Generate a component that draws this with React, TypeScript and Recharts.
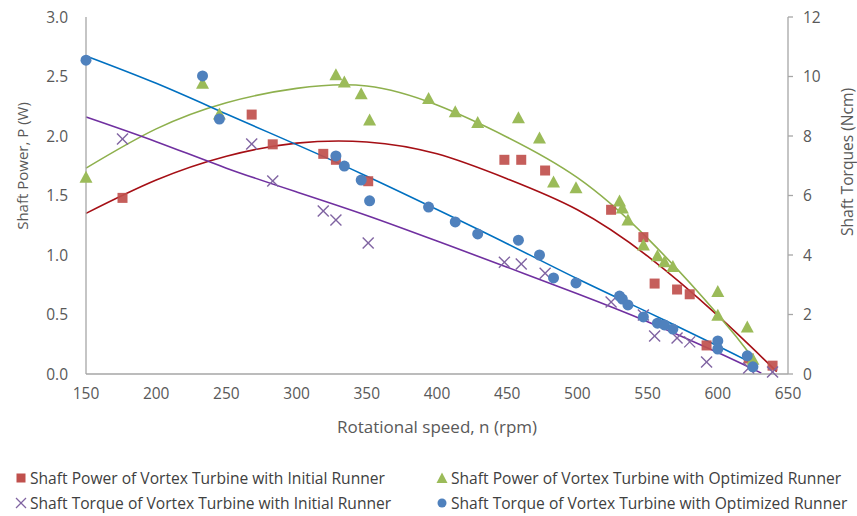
import React from "react";
import {
  ComposedChart,
  Scatter,
  Line,
  XAxis,
  YAxis,
  Legend,
} from "recharts";

// measured points, initial runner (power in W, torque in Ncm)
const rpmInitial = [176, 268, 283, 319, 328, 351, 448, 460, 477, 524, 547, 555, 571, 580, 592, 622, 639];
const powerInitial = [1.48, 2.18, 1.93, 1.85, 1.8, 1.62, 1.8, 1.8, 1.71, 1.38, 1.15, 0.76, 0.71, 0.67, 0.24, 0.13, 0.07];
const torqueInitial = [7.9, 7.73, 6.49, 5.48, 5.18, 4.4, 3.76, 3.7, 3.39, 2.42, 1.98, 1.28, 1.21, 1.08, 0.4, 0.2, 0.07];

// measured points, optimized runner
const rpmOptimized = [150, 233, 245, 328, 334, 346, 352, 394, 413, 429, 458, 473, 483, 499, 530, 532, 536, 547, 557, 562, 568, 600, 600, 621, 625];
const powerOptimized = [1.65, 2.44, 2.18, 2.51, 2.45, 2.35, 2.13, 2.31, 2.2, 2.11, 2.15, 1.98, 1.61, 1.56, 1.45, 1.39, 1.29, 1.08, 0.99, 0.94, 0.9, 0.69, 0.49, 0.39, 0.12];
const torqueOptimized = [10.55, 10.02, 8.57, 7.33, 6.99, 6.52, 5.82, 5.61, 5.11, 4.71, 4.5, 4.0, 3.23, 3.06, 2.62, 2.52, 2.32, 1.92, 1.71, 1.65, 1.51, 1.11, 0.84, 0.61, 0.24];

// trendlines
const trendPowerInitialX = [150, 200, 250, 300, 350, 400, 450, 500, 550, 600, 642];
const trendPowerInitial = [1.35, 1.63, 1.83, 1.94, 1.95, 1.85, 1.64, 1.38, 0.99, 0.49, 0.02];
const trendPowerOptimizedX = [150, 200, 250, 300, 350, 400, 450, 500, 550, 600, 626];
const trendPowerOptimized = [1.73, 2.06, 2.28, 2.4, 2.42, 2.26, 1.99, 1.65, 1.14, 0.5, 0.12];
const trendTorqueInitialX = [150, 200, 250, 300, 350, 400, 450, 500, 550, 600, 631];
const trendTorqueInitial = [8.64, 7.81, 6.92, 6.12, 5.33, 4.47, 3.59, 2.7, 1.76, 0.72, 0.03];
const trendTorqueOptimizedX = [150, 200, 250, 300, 350, 400, 450, 500, 550, 600, 625];
const trendTorqueOptimized = [10.69, 9.77, 8.74, 7.71, 6.65, 5.53, 4.38, 3.2, 2.08, 0.94, 0.35];

const xTicks = [150, 200, 250, 300, 350, 400, 450, 500, 550, 600, 650];
const powerTicks = [0, 0.5, 1, 1.5, 2, 2.5, 3];
const torqueTicks = [0, 2, 4, 6, 8, 10, 12];

const zip = (xs: number[], ys: number[]) => xs.map((x, i) => ({ x, y: ys[i] }));

const FONT = "'Open Sans', sans-serif";
const TEXT = "#595959";
const AXIS = "#a6a6a6";

const RED = "#c0504d";
const GREEN = "#9bbb59";
const PURPLE = "#8064a2";
const BLUE = "#4f81bd";

const Square = (p: any) => (
  <rect x={p.cx - 5} y={p.cy - 5} width={10} height={10} fill={RED} fillOpacity={0.92} />
);
const Triangle = (p: any) => (
  <polygon
    points={`${p.cx},${p.cy - 7} ${p.cx - 6.5},${p.cy + 5} ${p.cx + 6.5},${p.cy + 5}`}
    fill={GREEN}
  />
);
const Circle = (p: any) => <circle cx={p.cx} cy={p.cy} r={5.5} fill={BLUE} />;
const Cross = (p: any) => (
  <g stroke={PURPLE} strokeWidth={1.4}>
    <line x1={p.cx - 5.5} y1={p.cy - 5.5} x2={p.cx + 5.5} y2={p.cy + 5.5} />
    <line x1={p.cx - 5.5} y1={p.cy + 5.5} x2={p.cx + 5.5} y2={p.cy - 5.5} />
  </g>
);

const LeftTitle = () => (
  <text x={22} y={166} transform="rotate(-90 22 166)" textAnchor="middle" dominantBaseline="central"
    fill={TEXT} fontSize={15} fontFamily={FONT}>
    Shaft Power, P (W)
  </text>
);
const RightTitle = () => (
  <text x={847} y={162} transform="rotate(-90 847 162)" textAnchor="middle" dominantBaseline="central"
    fill={TEXT} fontSize={15.6} fontFamily={FONT}>
    Shaft Torques (Ncm)
  </text>
);

const legendRows = [
  [
    { name: "Shaft Power of Vortex Turbine with Initial Runner", mark: "square" },
    { name: "Shaft Power of Vortex Turbine with Optimized Runner", mark: "triangle" },
  ],
  [
    { name: "Shaft Torque of Vortex Turbine with Initial Runner", mark: "cross" },
    { name: "Shaft Torque of Vortex Turbine with Optimized Runner", mark: "circle" },
  ],
];

const LegendMark = ({ mark }: { mark: string }) => (
  <svg width={12} height={12} style={{ marginRight: 3, flex: "none" }}>
    {mark === "square" && <rect x={1.5} y={1.5} width={9} height={9} fill={RED} />}
    {mark === "triangle" && <polygon points="6,0.5 0.5,11 11.5,11" fill={GREEN} />}
    {mark === "cross" && (
      <g stroke={PURPLE} strokeWidth={1.3}>
        <line x1={1} y1={1} x2={11} y2={11} />
        <line x1={1} y1={11} x2={11} y2={1} />
      </g>
    )}
    {mark === "circle" && <circle cx={6} cy={6} r={4.5} fill={BLUE} />}
  </svg>
);

const renderLegend = () => (
  <div style={{ height: 70, fontFamily: FONT, fontSize: 15.6, color: "#404040", position: "relative" }}>
    {legendRows.map((row, r) =>
      row.map((item, c) => (
        <div
          key={item.name}
          style={{
            position: "absolute",
            left: c === 0 ? 15 : 436,
            top: 21 + r * 25,
            height: 22,
            display: "flex",
            alignItems: "center",
            whiteSpace: "nowrap",
          }}
        >
          <LegendMark mark={item.mark} />
          <span>{item.name}</span>
        </div>
      ))
    )}
  </div>
);

export default function App() {
  const tickStyle = { fill: TEXT, fontSize: 15.5, fontFamily: FONT };
  return (
    <div style={{ position: "absolute", left: 0, top: 0, background: "#fff" }}>
      <ComposedChart width={857} height={516} margin={{ top: 17, right: 0, bottom: 0, left: 0 }}>
        <XAxis
          dataKey="x"
          type="number"
          domain={[150, 650]}
          ticks={xTicks}
          interval={0}
          height={72}
          tickLine={false}
          tickSize={6}
          tickMargin={8}
          axisLine={{ stroke: AXIS, strokeWidth: 1.3 }}
          tick={tickStyle}
          label={{
            value: "Rotational speed, n (rpm)",
            position: "insideBottom",
            offset: 13,
            fill: TEXT,
            fontSize: 17,
            fontFamily: FONT,
          }}
        />
        <YAxis
          yAxisId="power"
          dataKey="y"
          type="number"
          domain={[0, 3]}
          ticks={powerTicks}
          interval={0}
          width={86}
          tickLine={false}
          tickSize={6}
          tickMargin={12}
          tickFormatter={(v: number) => v.toFixed(1)}
          axisLine={{ stroke: AXIS, strokeWidth: 1.3 }}
          tick={tickStyle}
          label={<LeftTitle />}
        />
        <YAxis
          yAxisId="torque"
          orientation="right"
          dataKey="y"
          type="number"
          domain={[0, 12]}
          ticks={torqueTicks}
          interval={0}
          width={69}
          tickSize={5}
          tickMargin={10}
          tickLine={{ stroke: AXIS, strokeWidth: 1.3 }}
          axisLine={{ stroke: AXIS, strokeWidth: 1.3 }}
          tick={tickStyle}
          label={<RightTitle />}
        />
        <Legend verticalAlign="bottom" content={renderLegend} />

        <Scatter yAxisId="power" data={zip(rpmInitial, powerInitial)} dataKey="y" shape={Square} isAnimationActive={false} />
        <Scatter yAxisId="power" data={zip(rpmOptimized, powerOptimized)} dataKey="y" shape={Triangle} isAnimationActive={false} />
        <Scatter yAxisId="torque" data={zip(rpmInitial, torqueInitial)} dataKey="y" shape={Cross} isAnimationActive={false} />
        <Scatter yAxisId="torque" data={zip(rpmOptimized, torqueOptimized)} dataKey="y" shape={Circle} isAnimationActive={false} />

        <Line yAxisId="power" data={zip(trendPowerInitialX, trendPowerInitial)} dataKey="y" type="natural"
          stroke="#a50f15" strokeWidth={1.6} dot={false} isAnimationActive={false} />
        <Line yAxisId="power" data={zip(trendPowerOptimizedX, trendPowerOptimized)} dataKey="y" type="natural"
          stroke="#8eb04d" strokeWidth={1.6} dot={false} isAnimationActive={false} />
        <Line yAxisId="torque" data={zip(trendTorqueInitialX, trendTorqueInitial)} dataKey="y" type="natural"
          stroke="#7030a0" strokeWidth={1.6} dot={false} isAnimationActive={false} />
        <Line yAxisId="torque" data={zip(trendTorqueOptimizedX, trendTorqueOptimized)} dataKey="y" type="natural"
          stroke="#0070c0" strokeWidth={1.6} dot={false} isAnimationActive={false} />
      </ComposedChart>
    </div>
  );
}
